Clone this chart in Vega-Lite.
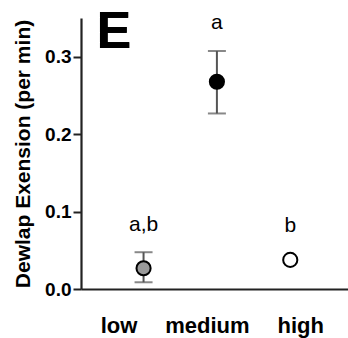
{
  "$schema": "https://vega.github.io/schema/vega-lite/v6.json",
  "width": 267,
  "height": 271,
  "autosize": {"type": "none"},
  "padding": {"left": 81, "top": 18, "right": 0, "bottom": 49},
  "background": "white",
  "config": {"view": {"stroke": null}},
  "data": {"values": [
    {"group": "low", "mean": 0.0268, "lower": 0.0087, "upper": 0.0475, "letter": "a,b"},
    {"group": "medium", "mean": 0.2677, "lower": 0.2267, "upper": 0.3074, "letter": "a"},
    {"group": "high", "mean": 0.0376, "lower": null, "upper": null, "letter": "b"}
  ]},
  "encoding": {
    "x": {"field": "group", "type": "nominal", "sort": ["low", "medium", "high"],
      "scale": {"type": "point", "padding": 0.82, "align": 0.52},
      "axis": {"title": null, "labelAngle": 0, "ticks": false, "tickSize": 0, "domain": true, "domainColor": "#222", "domainWidth": 2.2,
        "labelFont": "Liberation Sans", "labelFontWeight": "bold", "labelFontSize": 22, "labelColor": "black", "labelPadding": 43, "labelBaseline": "alphabetic",
        "labelOffset": {"expr": "datum.value == 'low' ? -25 : datum.value == 'medium' ? -10 : 10"}}}
  },
  "layer": [
    {"transform": [{"filter": "isValid(datum.upper)"}],
     "mark": {"type": "rule", "color": "#555", "strokeWidth": 2},
     "encoding": {
       "y": {"field": "lower", "type": "quantitative", "scale": {"domain": [0, 0.35], "nice": false},
         "axis": {"title": "Dewlap Exension (per min)", "values": [0, 0.1, 0.2, 0.3], "format": ".1f", "grid": false,
           "tickSize": 8, "tickWidth": 2, "tickColor": "#222", "domainColor": "#222", "domainWidth": 2.2,
           "labelFont": "Liberation Sans", "labelFontWeight": "bold", "labelFontSize": 19, "labelColor": "black", "labelPadding": 2,
           "titleFont": "Liberation Sans", "titleFontWeight": "bold", "titleFontSize": 21, "titleColor": "black",
           "titleAngle": -90, "titleBaseline": "alphabetic", "titleX": -52, "titleY": 135.5, "titleAlign": "center"}},
       "y2": {"field": "upper"}
     }},
    {"transform": [{"filter": "isValid(datum.upper)"}],
     "mark": {"type": "tick", "color": "#555", "thickness": 2, "size": 18},
     "encoding": {"y": {"field": "upper", "type": "quantitative"}}},
    {"transform": [{"filter": "isValid(datum.lower)"}],
     "mark": {"type": "tick", "color": "#555", "thickness": 2, "size": 18},
     "encoding": {"y": {"field": "lower", "type": "quantitative"}}},
    {"mark": {"type": "point", "shape": "circle", "filled": false, "size": 200, "stroke": "black", "strokeWidth": 2, "opacity": 1},
     "encoding": {
       "y": {"field": "mean", "type": "quantitative"},
       "fill": {"field": "group", "type": "nominal", "scale": {"domain": ["low", "medium", "high"], "range": ["#9a9a9a", "#000000", "#ffffff"]}, "legend": null}
     }},
    {"transform": [{"filter": "isValid(datum.upper)"}],
     "mark": {"type": "text", "font": "Liberation Sans", "fontSize": 21, "color": "black", "baseline": "alphabetic", "align": "center", "dy": -21.5},
     "encoding": {"y": {"field": "upper", "type": "quantitative"}, "text": {"field": "letter"}}},
    {"transform": [{"filter": "!isValid(datum.upper)"}],
     "mark": {"type": "text", "font": "Liberation Sans", "fontSize": 21, "color": "black", "baseline": "alphabetic", "align": "center", "dy": -28.3},
     "encoding": {"y": {"field": "mean", "type": "quantitative"}, "text": {"field": "letter"}}},
    {"mark": {"type": "text", "text": "E", "font": "Liberation Sans", "fontWeight": "bold", "fontSize": 52, "color": "black", "baseline": "alphabetic", "align": "left", "dx": -47, "dy": 30},
     "encoding": {"x": {"datum": "low"}, "y": {"datum": 0.35}}}
  ]
}
